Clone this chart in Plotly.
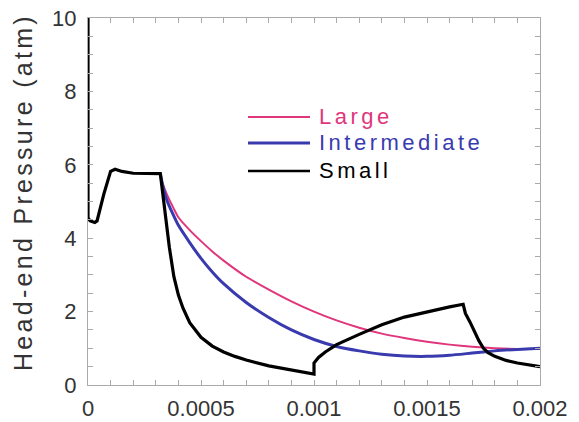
import plotly.graph_objects as go

# ---- data (time in s, pressure in atm) ----
large_t = [0.00032, 0.00033, 0.00035, 0.00038, 0.0004, 0.00045, 0.0005, 0.00055, 0.0006, 0.0007,
           0.0008, 0.0009, 0.001, 0.0011, 0.0012, 0.0013, 0.0014, 0.0015, 0.0016, 0.0017,
           0.0018, 0.0019, 0.002]
large_p = [5.76, 5.5, 5.18, 4.8, 4.57, 4.22, 3.92, 3.64, 3.39, 2.95,
           2.6, 2.28, 2.0, 1.76, 1.56, 1.4, 1.28, 1.18, 1.1, 1.04,
           1.0, 0.98, 0.98]

inter_t = [0.00032, 0.00033, 0.00035, 0.00038, 0.0004, 0.00045, 0.0005, 0.00055, 0.0006, 0.0007,
           0.0008, 0.0009, 0.001, 0.0011, 0.0012, 0.0013, 0.0014, 0.0015, 0.0016, 0.0017,
           0.0018, 0.0019, 0.002]
inter_p = [5.76, 5.45, 5.02, 4.6, 4.35, 3.88, 3.45, 3.08, 2.76, 2.25,
           1.84, 1.5, 1.24, 1.05, 0.93, 0.84, 0.79, 0.78, 0.81, 0.87,
           0.93, 0.97, 1.0]

small_t = [0.0, 0.0, 0.00001, 0.00003, 0.00004, 0.00007, 0.0001, 0.00012, 0.00015, 0.0002, 0.00032,
           0.00033, 0.00034, 0.00035, 0.00036, 0.00037, 0.00038, 0.0004, 0.00042, 0.00045, 0.0005,
           0.00055, 0.0006, 0.00065, 0.0007, 0.0008, 0.0009, 0.001,
           0.001, 0.00102, 0.00105, 0.0011, 0.0012, 0.0013, 0.0014, 0.0015, 0.0016, 0.00166,
           0.00167, 0.00169, 0.00171, 0.00173, 0.00175, 0.00177, 0.0018, 0.00185, 0.0019, 0.00195, 0.002]
small_p = [10.0, 4.55, 4.47, 4.43, 4.47, 5.2, 5.82, 5.88, 5.82, 5.77, 5.76,
           5.3, 4.8, 4.25, 3.75, 3.3, 2.95, 2.45, 2.1, 1.7, 1.3,
           1.06, 0.9, 0.78, 0.68, 0.52, 0.4, 0.3,
           0.6, 0.75, 0.9, 1.1, 1.38, 1.64, 1.85, 2.0, 2.13, 2.2,
           1.95, 1.72, 1.45, 1.2, 1.0, 0.88, 0.78, 0.67, 0.6, 0.54, 0.5]

names = ["Large", "Intermediate", "Small"]
colors = ["#e0367c", "#3a3aaf", "#000000"]

# the page body adds an 8px offset, so the figure is laid out 8px smaller
OFF = 8
W, H = 579 - OFF, 422 - OFF
ML, MR, MT, MB = 88 - OFF, 39, 18 - OFF, 37
PW, PH = W - ML - MR, H - MT - MB

def px(xp):
    return (xp - OFF - ML) / PW

def py(yp):
    return (H - MB - (yp - OFF)) / PH

fig = go.Figure()
fig.add_trace(go.Scatter(x=large_t, y=large_p, mode="lines", name=names[0],
                         line=dict(color=colors[0], width=2, shape="spline", smoothing=0.6)))
fig.add_trace(go.Scatter(x=inter_t, y=inter_p, mode="lines", name=names[1],
                         line=dict(color=colors[1], width=3, shape="spline", smoothing=0.6)))
fig.add_trace(go.Scatter(x=small_t, y=small_p, mode="lines", name=names[2],
                         line=dict(color=colors[2], width=3.2), line_shape="linear"))

# legend drawn as lines + letter-spaced labels
leg_y = [117, 143, 171]
leg_w = [1.8, 3, 2.3]
for n, c, yy, lw in zip(names, colors, leg_y, leg_w):
    fig.add_shape(type="line", xref="paper", yref="paper",
                  x0=px(248), x1=px(310), y0=py(yy), y1=py(yy),
                  line=dict(color=c, width=lw))
    fig.add_annotation(xref="paper", yref="paper", x=px(317), y=py(yy),
                       xanchor="left", yanchor="middle", showarrow=False,
                       text=f'<span style="letter-spacing:3.5px">{n}</span>',
                       font=dict(family="Liberation Sans", size=22, color=c), yshift=1)

fig.add_annotation(xref="paper", yref="paper", x=px(23), y=py(192),
                   xanchor="center", yanchor="middle", showarrow=False, textangle=-90,
                   text='<span style="letter-spacing:3.3px">Head-end Pressure (atm)</span>',
                   font=dict(family="Liberation Sans", size=25, color="#333333"))

axis_common = dict(showgrid=False, zeroline=False, showline=True, linecolor="#aaaaaa",
                   linewidth=1, mirror="allticks", ticks="inside", ticklen=5, automargin=False,
                   ticklabeloverflow="allow",
                   tickcolor="#aaaaaa", tickfont=dict(family="Liberation Sans", size=22, color="#333333"))

fig.update_xaxes(range=[0, 0.002], tickvals=[0, 0.0005, 0.001, 0.0015, 0.002],
                 ticktext=["0", "0.0005", "0.001", "0.0015", "0.002"],
                 minor=dict(dtick=0.0001, ticks="inside", ticklen=5, tickcolor="#aaaaaa"),
                 ticklabelstandoff=4, **axis_common)
fig.update_yaxes(range=[0, 10], tickvals=[0, 2, 4, 6, 8, 10],
                 minor=dict(dtick=0.5, ticks="inside", ticklen=5, tickcolor="#aaaaaa"),
                 ticklabelstandoff=6, **axis_common)

fig.update_layout(width=W, height=H, margin=dict(l=ML, r=MR, t=MT, b=MB),
                  plot_bgcolor="white", paper_bgcolor="white", showlegend=False)

fig.write_html("out.html")
